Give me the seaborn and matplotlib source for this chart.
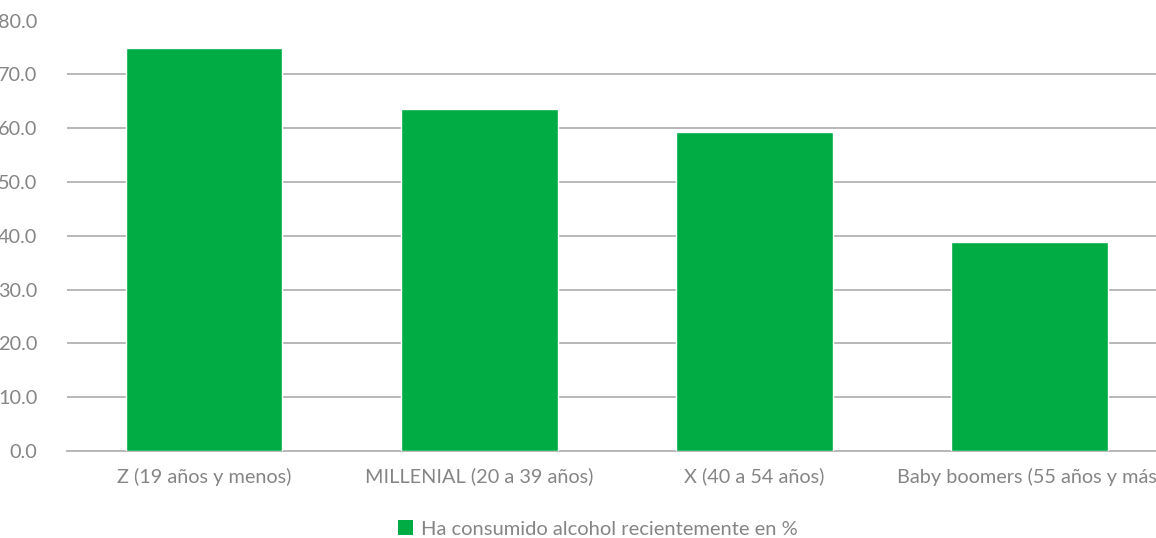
import matplotlib
matplotlib.use("Agg")
import matplotlib.pyplot as plt
import seaborn as sns
import pandas as pd
from matplotlib.patches import Patch

categories = ["Z (19 años y menos)", "MILLENIAL (20 a 39 años)",
              "X (40 a 54 años)", "Baby boomers (55 años y más)"]
values = [74.9, 63.6, 59.3, 38.9]
series_name = "Ha consumido alcohol recientemente en %"
y_ticks = [0, 10, 20, 30, 40, 50, 60, 70, 80]

GREEN = "#00AC43"
GRID = "#b8b8b8"
TEXT = "#858585"

sns.set_theme(style="white")
plt.rcParams["font.family"] = ["Lato", "DejaVu Sans"]

df = pd.DataFrame({"grupo": categories, "valor": values})

W, H = 1156, 538
fig = plt.figure(figsize=(W / 100, H / 100), dpi=100)
ax = fig.add_axes([66.5 / W, 87 / H, (1167 - 66.5) / W, (517.5 - 87) / H])

sns.barplot(data=df, x="grupo", y="valor", color=GREEN, width=0.57,
            saturation=1, ax=ax, zorder=3)

ax.set_ylim(0, 80)
ax.set_xlim(-0.5, len(categories) - 0.5)
ax.set_yticks(y_ticks)
ax.set_yticklabels([f"{t:.1f}" for t in y_ticks])
ax.yaxis.grid(True, color=GRID, linewidth=1.4, zorder=0)
ax.xaxis.grid(False)
for side in ["left", "right", "top"]:
    ax.spines[side].set_visible(False)
ax.spines["bottom"].set_color(GRID)
ax.spines["bottom"].set_linewidth(1.4)
ax.set_xlabel("")
ax.set_ylabel("")
ax.tick_params(axis="both", length=0, labelsize=14.3, labelcolor=TEXT)
ax.tick_params(axis="y", pad=21)
ax.tick_params(axis="x", pad=12)

handle = Patch(facecolor=GREEN, edgecolor="none")
fig.legend([handle], [series_name], loc="center", bbox_to_anchor=(598 / W, 9 / H),
           frameon=False, fontsize=14.5, labelcolor=TEXT, handlelength=0.75,
           handleheight=0.75, handletextpad=0.4)

fig.savefig("out.png", dpi=100)
